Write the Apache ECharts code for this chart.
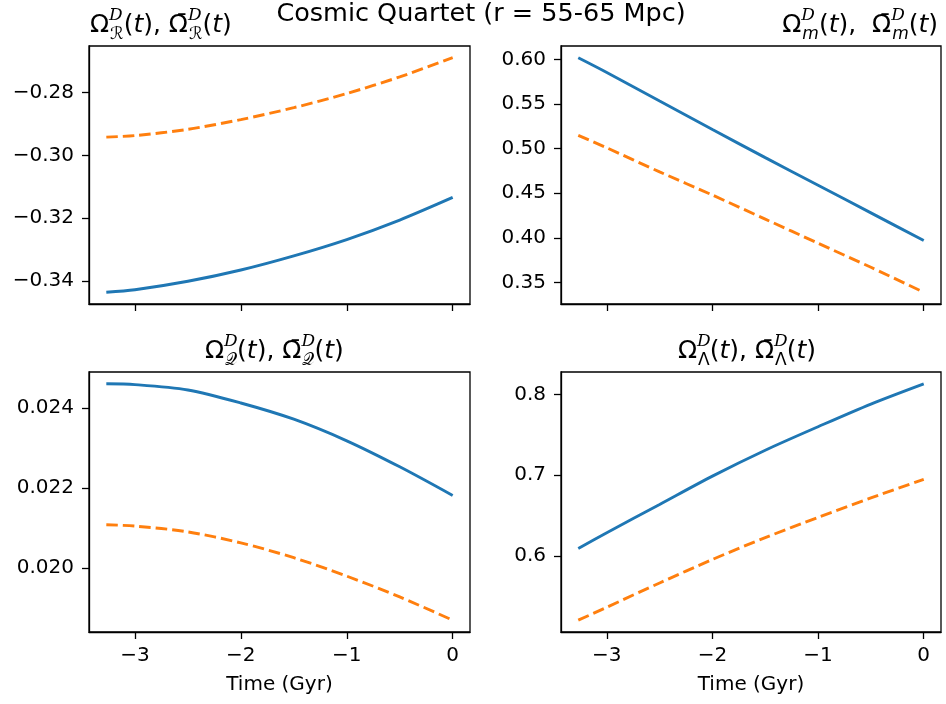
<!DOCTYPE html>
<html>
<head>
<meta charset="utf-8">
<script src="https://cdn.jsdelivr.net/npm/echarts@6/dist/echarts.min.js"></script>
<style>
  html, body { margin: 0; background: #fff; }
  #chart { width: 946px; height: 704px; }
</style>
</head>
<body>
<div id="chart"></div>
<script>
// time axis shared by all four panels (Gyr)
const timeGyr = [-3.27, -3.0, -2.5, -2.0, -1.5, -1.0, -0.5, 0.0]

// Omega_R (curvature)
const curvature = [-0.3436, -0.3428, -0.3401, -0.3365, -0.3320, -0.3268, -0.3206, -0.3134]
const curvatureBar = [-0.2942, -0.2937, -0.2917, -0.2886, -0.2848, -0.2803, -0.2750, -0.2689]
// Omega_m (matter)
const matter = [0.602, 0.5855, 0.5535, 0.5215, 0.4900, 0.4590, 0.4280, 0.3970]
const matterBar = [0.515, 0.501, 0.474, 0.448, 0.421, 0.394, 0.367, 0.339]
// Omega_Q (backreaction)
const backreaction = [0.024604, 0.024585, 0.024450, 0.024125, 0.023720, 0.023180, 0.022530, 0.021814]
const backreactionBar = [0.021082, 0.021050, 0.020905, 0.020630, 0.020260, 0.019800, 0.019280, 0.018699]
// Omega_Lambda
const lambda = [0.6095, 0.629, 0.664, 0.699, 0.731, 0.760, 0.788, 0.813]
const lambdaBar = [0.521, 0.537, 0.567, 0.596, 0.623, 0.648, 0.672, 0.695]

const xTicks = [-3, -2, -1, 0]
const yTicksR = [-0.34, -0.32, -0.30, -0.28]
const yTicksM = [0.35, 0.40, 0.45, 0.50, 0.55, 0.60]
const yTicksQ = [0.020, 0.022, 0.024]
const yTicksL = [0.6, 0.7, 0.8]

const FONT = 'DejaVu Sans'
const BLUE = '#1f77b4'
const ORANGE = '#ff7f0e'

const minus = s => s.replace('-', '\u2212')

// matplotlib style 5% margins
function limits(...arrs) {
  const all = [].concat(...arrs)
  const lo = Math.min(...all)
  const hi = Math.max(...all)
  const m = (hi - lo) * 0.05
  return [lo - m, hi + m]
}

const xLim = limits(timeGyr)

const panels = [
  { solid: curvature, dashed: curvatureBar, ticks: yTicksR, digits: 2, grid: { left: 89, top: 46, width: 381, height: 258 }, bottom: false },
  { solid: matter, dashed: matterBar, ticks: yTicksM, digits: 2, grid: { left: 561, top: 46, width: 380, height: 258 }, bottom: false },
  { solid: backreaction, dashed: backreactionBar, ticks: yTicksQ, digits: 3, grid: { left: 89, top: 372, width: 381, height: 260 }, bottom: true },
  { solid: lambda, dashed: lambdaBar, ticks: yTicksL, digits: 1, grid: { left: 561, top: 372, width: 380, height: 260 }, bottom: true }
]

const tickStyle = { show: true, length: 7, lineStyle: { color: '#000', width: 1.3 } }
const lineAxis = { show: true, onZero: false, lineStyle: { color: '#000', width: 1.3 } }

const grid = panels.map(p => ({ ...p.grid, show: true, borderColor: '#000', borderWidth: 1.3, containLabel: false }))

const xAxis = panels.map((p, i) => ({
  type: 'value',
  gridIndex: i,
  min: xLim[0],
  max: xLim[1],
  axisLine: lineAxis,
  axisTick: { ...tickStyle, customValues: xTicks },
  splitLine: { show: false },
  axisLabel: {
    show: p.bottom,
    customValues: xTicks,
    margin: 14,
    fontSize: 20,
    fontFamily: FONT,
    color: '#000',
    formatter: v => minus(String(v))
  },
  name: p.bottom ? 'Time (Gyr)' : '',
  nameLocation: 'middle',
  nameGap: 43,
  nameTextStyle: { fontSize: 20, fontFamily: FONT, color: '#000' }
}))

const yAxis = panels.map((p, i) => {
  const lim = limits(p.solid, p.dashed)
  return {
    type: 'value',
    gridIndex: i,
    min: lim[0],
    max: lim[1],
    axisLine: lineAxis,
    axisTick: { ...tickStyle, customValues: p.ticks },
    splitLine: { show: false },
    axisLabel: {
      customValues: p.ticks,
      margin: 15,
      fontSize: 20,
      fontFamily: FONT,
      color: '#000',
      formatter: v => minus(v.toFixed(p.digits))
    }
  }
})

const series = []
panels.forEach((p, i) => {
  series.push({
    type: 'line', xAxisIndex: i, yAxisIndex: i,
    data: timeGyr.map((t, k) => [t, p.solid[k]]),
    showSymbol: false, smooth: 0.3,
    lineStyle: { color: BLUE, width: 2.9 }
  })
  series.push({
    type: 'line', xAxisIndex: i, yAxisIndex: i,
    data: timeGyr.map((t, k) => [t, p.dashed[k]]),
    showSymbol: false, smooth: 0.3,
    lineStyle: { color: ORANGE, width: 2.9, type: [11.5, 5], cap: 'butt' }
  })
})

const base = { fontFamily: FONT, fontWeight: 'normal', color: '#000' }
const rich = {
  o: { ...base, fontSize: 25, lineHeight: 36 },
  i: { ...base, fontSize: 25, fontStyle: 'italic', lineHeight: 36 },
  sup: { ...base, fontSize: 17, fontFamily: 'DejaVu Serif', fontStyle: 'italic', align: 'left', verticalAlign: 'top', lineHeight: 22, width: 1 },
  sub: { ...base, fontSize: 17, verticalAlign: 'bottom', lineHeight: 18 },
  subi: { ...base, fontSize: 17, fontStyle: 'italic', verticalAlign: 'bottom', lineHeight: 18 }
}

const OB = '\u03A9\u0304'
const titleR = `{o|Ω}{sup|D}{sub|ℛ}{o|(}{i|t}{o|), ${OB}}{sup|D}{sub|ℛ}{o|(}{i|t}{o|)}`
const titleM = `{o|Ω}{sup|D}{subi|m}{o|(}{i|t}{o|),  ${OB}}{sup|D}{subi|m}{o|(}{i|t}{o|)}`
const titleQ = `{o|Ω}{sup|D}{sub|\u{1D4AC}}{o|(}{i|t}{o|), ${OB}}{sup|D}{sub|\u{1D4AC}}{o|(}{i|t}{o|)}`
const titleL = `{o|Ω}{sup|D}{sub|Λ}{o|(}{i|t}{o|), ${OB}}{sup|D}{sub|Λ}{o|(}{i|t}{o|)}`

const title = [
  { text: 'Cosmic Quartet (r = 55-65 Mpc)', left: 476, top: -4, textAlign: 'center',
    textStyle: { fontSize: 25.5, fontWeight: 'normal', fontFamily: FONT, color: '#000' } },
  { text: titleR, left: 85, top: 2, textStyle: { ...base, rich } },
  { text: titleM, right: 3, top: 2, textStyle: { ...base, rich } },
  { text: titleQ, left: 200, top: 328, textStyle: { ...base, rich } },
  { text: titleL, left: 673, top: 328, textStyle: { ...base, rich } }
]

const chart = echarts.init(document.getElementById('chart'))
chart.setOption({
  animation: false,
  backgroundColor: '#fff',
  title,
  grid,
  xAxis,
  yAxis,
  series
})
</script>
</body>
</html>
